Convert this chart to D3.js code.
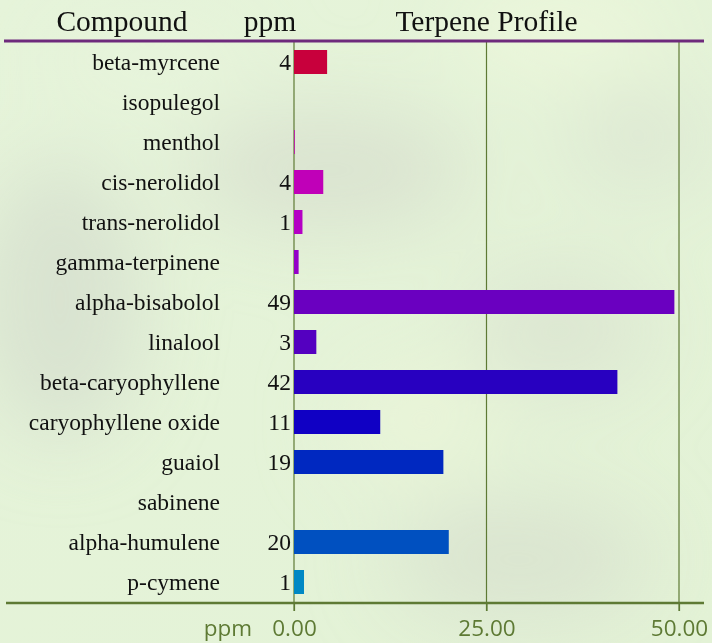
<!DOCTYPE html>
<html>
<head>
<meta charset="utf-8">
<script src="https://cdn.jsdelivr.net/npm/d3@7"></script>
<style>
  html, body { margin: 0; padding: 0; background: #e2f0d6; }
  svg { display: block; }
</style>
</head>
<body>
<div id="chart"></div>
<script>
// Terpene names, top to bottom
const compounds = [
  'beta-myrcene', 'isopulegol', 'menthol', 'cis-nerolidol', 'trans-nerolidol',
  'gamma-terpinene', 'alpha-bisabolol', 'linalool', 'beta-caryophyllene',
  'caryophyllene oxide', 'guaiol', 'sabinene', 'alpha-humulene', 'p-cymene'
];
// ppm values
const ppm = [4.3, 0, 0.1, 3.8, 1.1, 0.6, 49.4, 2.9, 42.0, 11.2, 19.4, 0, 20.1, 1.3];
const barColors = [
  '#c8003c', '#c800b4', '#c800b4', '#c000b8', '#b400c4', '#9400c8', '#6a00c0',
  '#5400c0', '#2800c0', '#1000c4', '#0028c0', '#0040c0', '#0050c0', '#0088c4'
];
const tickValues = [0, 25, 50];

const width = 712, height = 643;
const svg = d3.select('#chart').append('svg')
  .attr('width', width)
  .attr('height', height);

// soft blurry background
const defs = svg.append('defs');
const blur = defs.append('filter').attr('id', 'blur')
  .attr('x', '-50%').attr('y', '-50%').attr('width', '200%').attr('height', '200%');
blur.append('feGaussianBlur').attr('stdDeviation', 40);

const base = defs.append('linearGradient').attr('id', 'bg')
  .attr('x1', 0).attr('y1', 0).attr('x2', 1).attr('y2', 1);
base.append('stop').attr('offset', '0%').attr('stop-color', '#e6f4da');
base.append('stop').attr('offset', '100%').attr('stop-color', '#e3f2d6');
svg.append('rect').attr('width', width).attr('height', height).attr('fill', 'url(#bg)');

const blobs = svg.append('g').attr('filter', 'url(#blur)');
[
  [60, 300, 80, 140, '#d6dfcf'],
  [330, 170, 140, 60, '#d8e0cf'],
  [520, 560, 130, 60, '#d8e2cf'],
  [560, 330, 90, 60, '#dae4d0'],
  [640, 140, 70, 50, '#dce6d2'],
  [560, 30, 110, 40, '#eef8dc'],
  [420, 420, 80, 60, '#eaf5d8'],
  [150, 60, 100, 40, '#e8f5dc']
].forEach(([cx, cy, rx, ry, c]) => {
  blobs.append('ellipse').attr('cx', cx).attr('cy', cy).attr('rx', rx).attr('ry', ry)
    .attr('fill', c).attr('opacity', 0.85);
});

const plotLeft = 294, plotRight = 679;
const plotTop = 42, plotBottom = 602;

const x = d3.scaleLinear().domain([0, 50]).range([plotLeft, plotRight]);
const y = d3.scaleBand().domain(compounds).range([plotTop, plotBottom]).paddingInner(0.4).paddingOuter(0.2);

const green = '#5e7a34';

// gridlines
svg.append('g').selectAll('line')
  .data(tickValues)
  .join('line')
  .attr('x1', d => x(d)).attr('x2', d => x(d))
  .attr('y1', plotTop).attr('y2', 611)
  .attr('stroke', green).attr('stroke-width', 1.2);

// bars
svg.append('g').selectAll('rect')
  .data(compounds)
  .join('rect')
  .attr('x', x(0))
  .attr('y', d => y(d))
  .attr('height', y.bandwidth())
  .attr('width', (d, i) => x(ppm[i]) - x(0))
  .attr('fill', (d, i) => barColors[i]);

const serif = '"Liberation Serif", "Times New Roman", serif';

// compound names
svg.append('g').selectAll('text')
  .data(compounds)
  .join('text')
  .attr('x', 220)
  .attr('y', d => y(d) + y.bandwidth() / 2)
  .attr('dy', '0.35em')
  .attr('text-anchor', 'end')
  .attr('font-family', serif)
  .attr('font-size', 23.5)
  .attr('fill', '#111')
  .text(d => d);

// ppm values
svg.append('g').selectAll('text')
  .data(compounds.filter((d, i) => ppm[i] >= 1))
  .join('text')
  .attr('x', 291)
  .attr('y', d => y(d) + y.bandwidth() / 2)
  .attr('dy', '0.35em')
  .attr('text-anchor', 'end')
  .attr('font-family', serif)
  .attr('font-size', 23.5)
  .attr('fill', '#111')
  .text(d => Math.round(ppm[compounds.indexOf(d)]));

// header
const header = svg.append('g')
  .attr('font-family', serif)
  .attr('font-size', 29.5)
  .attr('fill', '#111')
  .attr('text-anchor', 'middle');
header.append('text').attr('x', 122).attr('y', 31).text('Compound');
header.append('text').attr('x', 270).attr('y', 31).text('ppm');
header.append('text').attr('x', (plotLeft + plotRight) / 2).attr('y', 31).text('Terpene Profile');

svg.append('line')
  .attr('x1', 4).attr('x2', 704)
  .attr('y1', 41).attr('y2', 41)
  .attr('stroke', '#6e2a7c').attr('stroke-width', 3);

// bottom axis
const axis = svg.append('g').attr('transform', `translate(0,${plotBottom + 1})`)
  .call(d3.axisBottom(x).tickValues(tickValues).tickFormat(d3.format('.2f')).tickSize(8));
axis.select('.domain').remove();
axis.selectAll('.tick line').attr('stroke', green).attr('stroke-width', 1.2);
axis.selectAll('.tick text')
  .attr('fill', green)
  .attr('font-family', '"Open Sans", sans-serif')
  .attr('font-size', 22.5)
  .attr('dy', null)
  .attr('y', 33);

svg.append('line')
  .attr('x1', 6).attr('x2', 704)
  .attr('y1', plotBottom + 1).attr('y2', plotBottom + 1)
  .attr('stroke', green).attr('stroke-width', 2.5);

svg.append('text')
  .attr('x', 252).attr('y', 636)
  .attr('text-anchor', 'end')
  .attr('font-family', '"Open Sans", sans-serif')
  .attr('font-size', 22.5)
  .attr('fill', green)
  .text('ppm');
</script>
</body>
</html>
